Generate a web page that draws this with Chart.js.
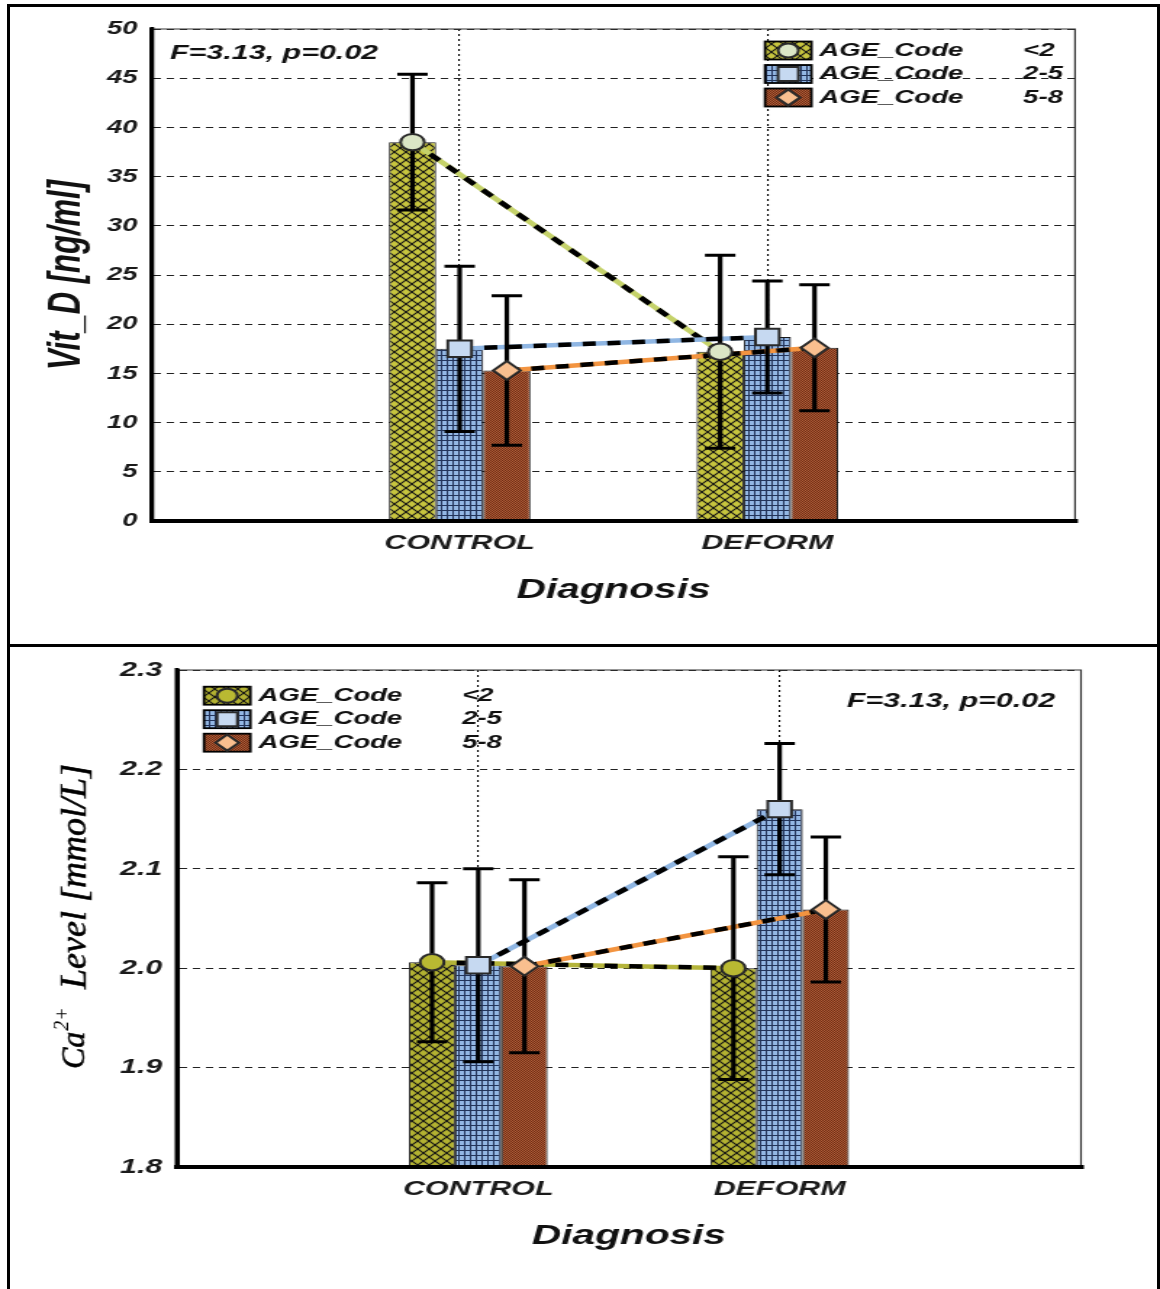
<!DOCTYPE html>
<html>
<head>
<meta charset="utf-8">
<script src="https://cdn.jsdelivr.net/npm/chart.js@4.4.1/dist/chart.umd.min.js"></script>
<style>
  body { margin: 0; background: #fff; width: 1160px; height: 1289px; overflow: hidden; position: relative; }
  .frame { position: absolute; left: 7px; top: 4px; width: 1153px; height: 1300px; box-sizing: border-box; border: 3px solid #000; border-bottom: none; }
  .divider { position: absolute; left: 7px; top: 644px; width: 1153px; height: 3px; background: #000; }
  .panel { position: absolute; left: 0; width: 800px; transform: scaleX(1.45); transform-origin: 0 0; }
</style>
</head>
<body>
<div class="frame"></div>
<div class="divider"></div>
<div class="panel" style="top:0"><canvas id="vitd" width="800" height="645"></canvas></div>
<div class="panel" style="top:645px"><canvas id="calcium" width="800" height="644"></canvas></div>

<script>
// groups and age bands
var categories = ['CONTROL', 'DEFORM'];
var ageGroups = ['<2', '2-5', '5-8'];
var seriesLabel = 'AGE_Code';

// Vit_D means and +/- error per age band
var vitdUnder2 = [38.5, 17.2];
var vitd2to5 = [17.5, 18.7];
var vitd5to8 = [15.3, 17.6];
var vitdErrUnder2 = [6.9, 9.8];
var vitdErr2to5 = [8.4, 5.7];
var vitdErr5to8 = [7.6, 6.4];

// Ca2+ means and +/- error per age band
var caUnder2 = [2.006, 2.000];
var ca2to5 = [2.003, 2.160];
var ca5to8 = [2.002, 2.059];
var caErrUnder2 = [0.080, 0.112];
var caErr2to5 = [0.097, 0.066];
var caErr5to8 = [0.087, 0.073];

var vitdAxis = [0, 50, 5];
var caAxis = [1.8, 2.3, 0.1];
var statText = 'F=3.13, p=0.02';

var STRETCH = 1.45;
var SANS = '"Liberation Sans", Arial, sans-serif';
var SERIF = '"Liberation Serif", "Times New Roman", serif';

function makePattern(ctx, w, h, draw) {
    var c = document.createElement('canvas');
    c.width = w;
    c.height = h;
    draw(c.getContext('2d'), w, h);
    return ctx.createPattern(c, 'repeat');
}

function crosshatch(ctx, base) {
    return makePattern(ctx, 8, 8, function (g, w, h) {
        g.fillStyle = base;
        g.fillRect(0, 0, w, h);
        g.strokeStyle = '#141414';
        g.lineWidth = 1.1;
        g.beginPath();
        g.moveTo(-1, -1); g.lineTo(w + 1, h + 1);
        g.moveTo(w + 1, -1); g.lineTo(-1, h + 1);
        g.stroke();
    });
}

function gridFill(ctx) {
    return makePattern(ctx, 4, 5, function (g, w, h) {
        g.fillStyle = '#93b7e4';
        g.fillRect(0, 0, w, h);
        g.fillStyle = '#23345a';
        g.fillRect(0, 0, w, 1);
        g.fillRect(0, 0, 1, h);
    });
}

function checkerFill(ctx) {
    return makePattern(ctx, 2, 2, function (g) {
        g.fillStyle = '#b05e36';
        g.fillRect(0, 0, 2, 2);
        g.fillStyle = '#6e2c17';
        g.fillRect(0, 0, 1, 1);
        g.fillRect(1, 1, 1, 1);
    });
}

function padded(arr) {
    return [null].concat(arr, [null]);
}

function drawMarker(ctx, shape, x, y, r, fill) {
    ctx.beginPath();
    if (shape === 'circle') {
        ctx.arc(x, y, r, 0, Math.PI * 2);
    } else if (shape === 'square') {
        ctx.rect(x - r, y - r, r * 2, r * 2);
    } else {
        var d = r * 1.15;
        ctx.moveTo(x, y - d);
        ctx.lineTo(x + d, y);
        ctx.lineTo(x, y + d);
        ctx.lineTo(x - d, y);
        ctx.closePath();
    }
    ctx.fillStyle = fill;
    ctx.fill();
    ctx.lineWidth = 2;
    ctx.strokeStyle = '#2a2a2a';
    ctx.setLineDash([]);
    ctx.stroke();
}

// mean lines, error bars and mean markers on top of the bars
var meanPlugin = {
    id: 'means',
    afterDatasetsDraw: function (chart) {
        var ctx = chart.ctx;
        var yScale = chart.scales.y;
        var series = chart.data.datasets.map(function (ds, i) {
            var bars = chart.getDatasetMeta(i).data;
            var pts = [];
            ds.data.forEach(function (v, j) {
                if (v === null) return;
                pts.push({
                    x: bars[j].x,
                    y: yScale.getPixelForValue(v),
                    hi: yScale.getPixelForValue(v + ds.errors[j]),
                    lo: yScale.getPixelForValue(v - ds.errors[j])
                });
            });
            return {ds: ds, pts: pts};
        });

        ctx.save();
        ctx.lineCap = 'butt';
        series.forEach(function (s) {
            ctx.beginPath();
            s.pts.forEach(function (p, k) {
                if (k) ctx.lineTo(p.x, p.y); else ctx.moveTo(p.x, p.y);
            });
            ctx.setLineDash([]);
            ctx.lineWidth = 4.5;
            ctx.strokeStyle = s.ds.lineColor;
            ctx.stroke();
            ctx.setLineDash([9, 8]);
            ctx.strokeStyle = '#000';
            ctx.stroke();
        });

        ctx.setLineDash([]);
        ctx.strokeStyle = '#000';
        series.forEach(function (s) {
            s.pts.forEach(function (p) {
                ctx.lineWidth = 3.2;
                ctx.beginPath();
                ctx.moveTo(p.x, p.hi);
                ctx.lineTo(p.x, p.lo);
                ctx.stroke();
                ctx.lineWidth = 3;
                ctx.beginPath();
                ctx.moveTo(p.x - 10.5, p.hi);
                ctx.lineTo(p.x + 10.5, p.hi);
                ctx.moveTo(p.x - 10.5, p.lo);
                ctx.lineTo(p.x + 10.5, p.lo);
                ctx.stroke();
            });
        });

        series.forEach(function (s) {
            s.pts.forEach(function (p) {
                drawMarker(ctx, s.ds.markerShape, p.x, p.y, 8.2, s.ds.markerFill);
            });
        });
        ctx.restore();
    }
};

// thin frame on the top and right side of the plot
var framePlugin = {
    id: 'plotFrame',
    beforeDatasetsDraw: function (chart) {
        var a = chart.chartArea, ctx = chart.ctx;
        ctx.save();
        ctx.strokeStyle = '#333';
        ctx.lineWidth = 1.2;
        ctx.beginPath();
        ctx.moveTo(a.left, a.top);
        ctx.lineTo(a.right, a.top);
        ctx.lineTo(a.right, a.bottom);
        ctx.stroke();
        ctx.restore();
    }
};

function drawLegend(chart, x, y) {
    var ctx = chart.ctx;
    ctx.save();
    chart.data.datasets.forEach(function (ds, i) {
        var cy = y + i * 23.5;
        ctx.fillStyle = ds.backgroundColor;
        ctx.fillRect(x, cy - 9, 32, 18);
        ctx.lineWidth = 1.8;
        ctx.strokeStyle = '#000';
        ctx.strokeRect(x, cy - 9, 32, 18);
        drawMarker(ctx, ds.markerShape, x + 16, cy, 7, ds.markerFill);
        ctx.fillStyle = '#111';
        ctx.font = 'italic bold 19px ' + SANS;
        ctx.textBaseline = 'middle';
        ctx.textAlign = 'left';
        ctx.fillText(ds.label, x + 37.5, cy);
        ctx.fillText(ds.group, x + 178, cy);
    });
    ctx.restore();
}

function drawStat(chart, x, y, align) {
    var ctx = chart.ctx;
    ctx.save();
    ctx.fillStyle = '#111';
    ctx.font = 'italic bold 21px ' + SANS;
    ctx.textBaseline = 'middle';
    ctx.textAlign = align;
    ctx.fillText(statText, x, y);
    ctx.restore();
}

function buildDatasets(values, errors, styles) {
    return values.map(function (vals, i) {
        return {
            label: seriesLabel,
            group: ageGroups[i],
            data: padded(vals),
            errors: padded(errors[i]),
            backgroundColor: styles[i].fill,
            borderColor: '#1a1a1a',
            borderWidth: 1,
            markerShape: styles[i].shape,
            markerFill: styles[i].marker,
            lineColor: styles[i].line,
            categoryPercentage: 0.46,
            barPercentage: 1.0
        };
    });
}

function makeChart(id, opts) {
    var canvas = document.getElementById(id);
    var ctx = canvas.getContext('2d');
    var axis = opts.axis;
    return new Chart(ctx, {
        type: 'bar',
        data: {
            labels: padded(categories).map(function (c) { return c || ''; }),
            datasets: buildDatasets(opts.values, opts.errors, opts.styles(ctx))
        },
        options: {
            responsive: false,
            animation: false,
            devicePixelRatio: 1,
            layout: {padding: opts.padding},
            plugins: {legend: {display: false}, tooltip: {enabled: false}},
            scales: {
                x: {
                    offset: false,
                    grid: {
                        offset: false,
                        drawTicks: false,
                        lineWidth: 1.1,
                        color: function (c) {
                            return (c.index === 0 || c.index === categories.length + 1) ? 'rgba(0,0,0,0)' : '#000';
                        }
                    },
                    border: {display: true, color: '#000', width: 4, dash: [2, 3]},
                    ticks: {
                        color: '#1a1a1a',
                        padding: opts.xTickPad,
                        maxRotation: 0,
                        autoSkip: false,
                        font: {family: SANS, size: 21, style: 'italic', weight: 'bold'}
                    },
                    title: {
                        display: true,
                        text: 'Diagnosis',
                        color: '#111',
                        padding: {top: 0, bottom: opts.xTitlePad},
                        font: {family: SANS, size: 28, style: 'italic', weight: 'bold'}
                    },
                    afterFit: function (s) { s.height = opts.xHeight; }
                },
                y: {
                    min: axis[0],
                    max: axis[1],
                    ticks: {
                        stepSize: axis[2],
                        color: '#1a1a1a',
                        padding: 10,
                        font: {family: SANS, size: opts.yTickSize, style: 'italic', weight: 'bold'},
                        callback: function (v) { return v.toFixed(opts.decimals); }
                    },
                    grid: {drawTicks: false, color: '#222', lineWidth: 1},
                    border: {display: true, color: '#000', width: 3, dash: [5, 4]},
                    title: opts.yTitle,
                    afterFit: function (s) { s.width = opts.yWidth; }
                }
            }
        },
        plugins: [framePlugin, meanPlugin, {id: 'decor', afterDraw: opts.decor}]
    });
}

// border.dash also dashes the axis line, so the solid axes are stroked here
function solidAxes(chart) {
    var a = chart.chartArea, ctx = chart.ctx;
    ctx.save();
    ctx.strokeStyle = '#000';
    ctx.setLineDash([]);
    ctx.lineWidth = 3;
    ctx.beginPath();
    ctx.moveTo(a.left, a.top - 2);
    ctx.lineTo(a.left, a.bottom);
    ctx.stroke();
    ctx.lineWidth = 4;
    ctx.beginPath();
    ctx.moveTo(a.left - 1.5, a.bottom);
    ctx.lineTo(a.right + 2, a.bottom);
    ctx.stroke();
    ctx.restore();
}

makeChart('vitd', {
    axis: vitdAxis,
    decimals: 0,
    yTickSize: 19,
    values: [vitdUnder2, vitd2to5, vitd5to8],
    errors: [vitdErrUnder2, vitdErr2to5, vitdErr5to8],
    styles: function (ctx) {
        return [
            {fill: crosshatch(ctx, '#c6c43e'), shape: 'circle', marker: '#dbe6c6', line: '#c5d26a'},
            {fill: gridFill(ctx), shape: 'square', marker: '#c6d9f1', line: '#8fb6e3'},
            {fill: checkerFill(ctx), shape: 'diamond', marker: '#f9bf8f', line: '#f39440'}
        ];
    },
    padding: {top: 29, right: 58.6, left: 0, bottom: 0},
    yWidth: 104.8,
    xHeight: 124,
    xTickPad: 10,
    xTitlePad: 38,
    yTitle: {
        display: true,
        text: 'Vit_D [ng/ml]',
        color: '#111',
        padding: {top: 28, bottom: 0},
        font: {family: SANS, size: 31, style: 'italic', weight: 'bold'}
    },
    decor: function (chart) {
        solidAxes(chart);
        drawStat(chart, 117.2, 53, 'left');
        drawLegend(chart, 527.6, 50.5);
    }
});

makeChart('calcium', {
    axis: caAxis,
    decimals: 1,
    yTickSize: 21,
    values: [caUnder2, ca2to5, ca5to8],
    errors: [caErrUnder2, caErr2to5, caErr5to8],
    styles: function (ctx) {
        return [
            {fill: crosshatch(ctx, '#b2b131'), shape: 'circle', marker: '#b9b932', line: '#b4b43a'},
            {fill: gridFill(ctx), shape: 'square', marker: '#c6d9f1', line: '#8fb6e3'},
            {fill: checkerFill(ctx), shape: 'diamond', marker: '#f9bf8f', line: '#f39440'}
        ];
    },
    padding: {top: 25, right: 54.5, left: 0, bottom: 0},
    yWidth: 122,
    xHeight: 122,
    xTickPad: 9.5,
    xTitlePad: 36,
    yTitle: {display: false},
    decor: function (chart) {
        var ctx = chart.ctx;
        solidAxes(chart);
        drawStat(chart, 727.6, 56, 'right');
        drawLegend(chart, 140.7, 50.7);

        // serif axis title with a superscript charge, drawn at its own width
        ctx.save();
        ctx.scale(1 / STRETCH, 1);
        ctx.translate(76, 424);
        ctx.rotate(-Math.PI / 2);
        ctx.fillStyle = '#000';
        ctx.strokeStyle = '#000';
        ctx.lineWidth = 0.6;
        ctx.textBaseline = 'middle';
        ctx.textAlign = 'left';
        ctx.font = 'italic 32px ' + SERIF;
        ctx.fillText('Ca', 0, 0);
        ctx.strokeText('Ca', 0, 0);
        var w = ctx.measureText('Ca').width;
        ctx.font = 'italic 20px ' + SERIF;
        ctx.fillText('2+', w + 1, -13);
        ctx.font = 'italic 36px ' + SERIF;
        ctx.fillText('Level [mmol/L]', 80, 0);
        ctx.strokeText('Level [mmol/L]', 80, 0);
        ctx.restore();
    }
});
</script>
</body>
</html>
